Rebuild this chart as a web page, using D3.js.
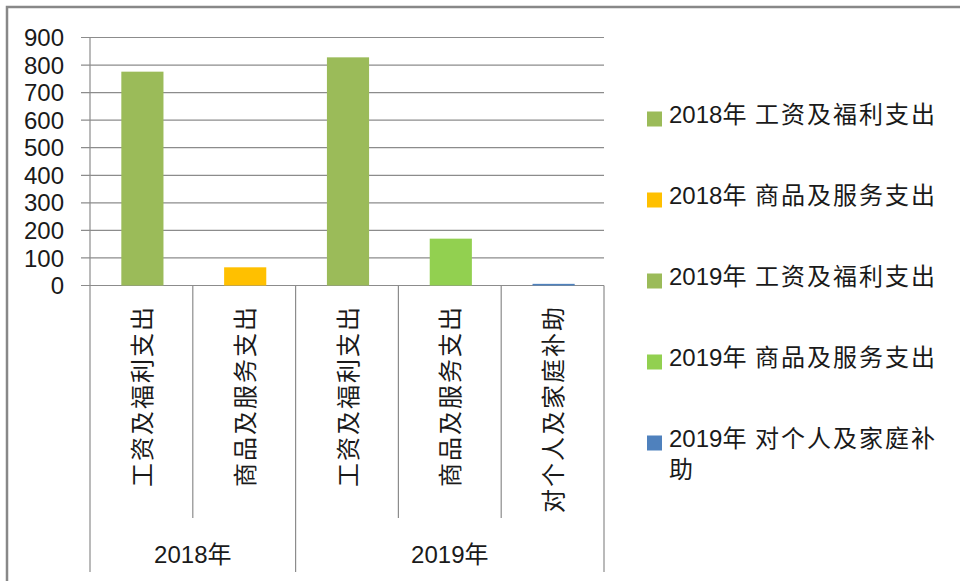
<!DOCTYPE html>
<html lang="zh">
<head>
<meta charset="utf-8">
<title>支出</title>
<script src="https://d3js.org/d3.v7.min.js"></script>
<style>
  body { margin: 0; background: #fff; }
  svg { display: block; }
  text {
    font-family: "Liberation Sans", "Noto Sans CJK SC", sans-serif;
    font-size: 24px;
    fill: #1a1a1a;
  }
  .cjk { letter-spacing: 2px; }
</style>
</head>
<body>
<svg width="960" height="581"></svg>
<script>
// data
const groups = ["2018年", "2019年"];
const categories = ["工资及福利支出", "商品及服务支出", "工资及福利支出", "商品及服务支出", "对个人及家庭补助"];
const groupOf = [0, 0, 1, 1, 1];
const values = [776, 66, 828, 170, 6];
const seriesNames = ["2018年 工资及福利支出", "2018年 商品及服务支出", "2019年 工资及福利支出", "2019年 商品及服务支出", "2019年 对个人及家庭补助"];
const seriesColors = ["#9bbb59", "#ffc000", "#9bbb59", "#92d050", "#4f81bd"];
const yTicks = [0, 100, 200, 300, 400, 500, 600, 700, 800, 900];

const svg = d3.select("svg");
const plotL = 90, plotR = 604, plotT = 37.5, plotB = 285.5;
const gridColor = "#8c8c8c";

// chart frame (cut off at right and bottom)
svg.append("rect")
   .attr("x", 7).attr("y", 7)
   .attr("width", 1000).attr("height", 1000)
   .attr("fill", "none")
   .attr("stroke", "#888")
   .attr("stroke-width", 2.5);

const y = d3.scaleLinear().domain([0, 900]).range([plotB, plotT]);
const x = d3.scaleBand().domain(d3.range(categories.length)).range([plotL, plotR]).padding(0);

// splits a label into latin and cjk runs
function richText(sel, str) {
  const runs = str.match(/[\u0000-\u00ff]+|[^\u0000-\u00ff]+/g) || [];
  runs.forEach(r => {
    sel.append("tspan")
       .attr("class", /[^\u0000-\u00ff]/.test(r) ? "cjk" : null)
       .text(r);
  });
}

// gridlines + ticks
svg.append("g").selectAll("line")
   .data(yTicks)
   .join("line")
   .attr("x1", plotL - 9).attr("x2", plotR)
   .attr("y1", d => y(d)).attr("y2", d => y(d))
   .attr("stroke", gridColor)
   .attr("stroke-width", 1.2);

svg.append("g").selectAll("text")
   .data(yTicks)
   .join("text")
   .attr("x", 64)
   .attr("y", d => y(d))
   .attr("dy", "0.36em")
   .attr("text-anchor", "end")
   .text(d => d);

// bars
const barW = x.bandwidth() * 0.41;
svg.append("g").selectAll("rect")
   .data(values)
   .join("rect")
   .attr("x", (d, i) => x(i) + (x.bandwidth() - barW) / 2 + 1)
   .attr("y", d => y(d))
   .attr("width", barW)
   .attr("height", d => plotB - y(d))
   .attr("fill", (d, i) => seriesColors[i]);

// y axis
svg.append("line")
   .attr("x1", plotL).attr("x2", plotL)
   .attr("y1", plotT).attr("y2", 572)
   .attr("stroke", gridColor).attr("stroke-width", 1.2);

// category separators: group edges run to the bottom, others stop short
const edges = d3.range(1, categories.length + 1);
svg.append("g").selectAll("line")
   .data(edges)
   .join("line")
   .attr("x1", i => i < categories.length ? x(i) : plotR)
   .attr("x2", i => i < categories.length ? x(i) : plotR)
   .attr("y1", plotB)
   .attr("y2", i => (i === categories.length || groupOf[i] !== groupOf[i - 1]) ? 572 : 518)
   .attr("stroke", gridColor).attr("stroke-width", 1.2);

// vertical category labels
categories.forEach((c, i) => {
  const cx = x(i) + x.bandwidth() / 2 + 1;
  const t = svg.append("text")
     .attr("transform", `translate(${cx},305) rotate(-90)`)
     .attr("text-anchor", "end")
     .attr("dy", "0.36em");
  richText(t, c);
});

// group labels
groups.forEach((g, gi) => {
  const idx = d3.range(categories.length).filter(i => groupOf[i] === gi);
  const x0 = x(idx[0]), x1 = x(idx[idx.length - 1]) + x.bandwidth();
  svg.append("text")
     .attr("x", (x0 + x1) / 2)
     .attr("y", 563)
     .attr("text-anchor", "middle")
     .text(g);
});

// legend
const legX = 647, textX = 669, maxW = 285;
const rowY = d3.scaleLinear().domain([0, seriesNames.length - 1]).range([123, 447]);
const legend = svg.append("g");
seriesNames.forEach((name, i) => {
  const by = rowY(i);
  legend.append("rect")
     .attr("x", legX).attr("y", by - 11.5)
     .attr("width", 15).attr("height", 15)
     .attr("fill", seriesColors[i]);

  // greedy wrap by measured width
  const probe = legend.append("text").attr("x", textX).attr("y", -100);
  const lines = [];
  let cur = "";
  for (const ch of name) {
    probe.selectAll("tspan").remove();
    richText(probe, cur + ch);
    if (probe.node().getComputedTextLength() > maxW && cur) {
      lines.push(cur);
      cur = ch.trim();
    } else {
      cur += ch;
    }
  }
  lines.push(cur);
  probe.remove();

  lines.forEach((ln, k) => {
    const t = legend.append("text").attr("x", textX).attr("y", by + k * 31);
    richText(t, ln);
  });
});
</script>
</body>
</html>
